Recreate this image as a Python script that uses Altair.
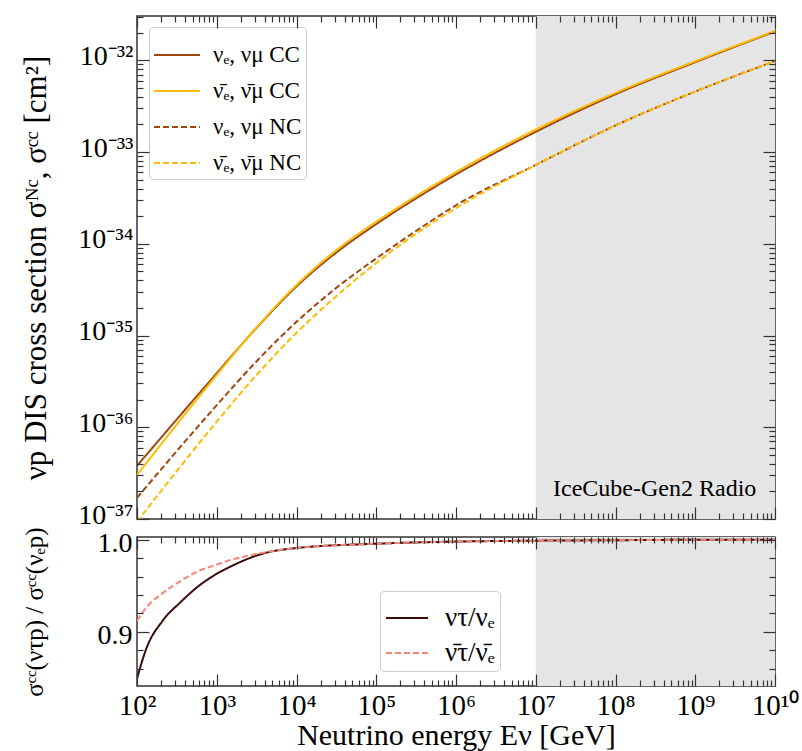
import altair as alt
import pandas as pd

# ------------------------------------------------------------------ data
energy_gev = [1e2, 1e3, 10 ** 3.5, 1e4, 10 ** 4.5, 1e5, 10 ** 5.5, 1e6, 1e7, 1e8, 1e9, 1e10]
cc_nu = [3.80e-37, 3.89e-36, 1.216e-35, 3.43e-35, 8.04e-35, 1.64e-34, 3.13e-34, 5.69e-34,
         1.66e-33, 4.27e-33, 9.55e-33, 2.065e-32]
cc_nubar = [3.02e-37, 3.72e-36, 1.23e-35, 3.55e-35, 8.51e-35, 1.74e-34, 3.31e-34, 6.03e-34,
            1.76e-33, 4.42e-33, 9.77e-33, 2.09e-32]
nc_nu = [1.70e-37, 1.74e-36, 5.25e-36, 1.41e-35, 3.31e-35, 6.92e-35, 1.38e-34, 2.63e-34,
         7.24e-34, 1.95e-33, 4.57e-33, 9.82e-33]
nc_nubar = [9.33e-38, 1.15e-36, 3.72e-36, 1.07e-35, 2.69e-35, 6.17e-35, 1.29e-34, 2.45e-34,
            7.24e-34, 1.95e-33, 4.57e-33, 9.82e-33]

series_top = ["νₑ, νμ CC", "ν̄ₑ, ν̄μ CC", "νₑ, νμ NC", "ν̄ₑ, ν̄μ NC"]
colors_top = ["#a0460f", "#fbbc05", "#a0460f", "#fbbc05"]

ratio_energy = [100, 130, 210, 350, 560, 1000, 1500, 3800, 1e4, 1e5, 1e6, 1e7, 1e8, 1e9, 1e10]
ratio_nutau = [0.849, 0.881, 0.912, 0.932, 0.948, 0.963, 0.971, 0.985, 0.991, 0.9957, 0.998, 0.999, 0.9995, 1.0, 1.0]
ratio_nutaubar = [0.912, 0.926, 0.942, 0.955, 0.965, 0.973, 0.978, 0.986, 0.991, 0.9957, 0.998, 0.999, 0.9995, 1.0, 1.0]
series_bot = ["ντ/νₑ", "ν̄τ/ν̄ₑ"]
colors_bot = ["#3d0b08", "#f7857a"]

band_energy = [1e7, 1e10]
band_label = ["IceCube-Gen2 Radio"]

x_domain = [1e2, 1e10]
y_domain_top = [1e-37, 3.04e-32]
y_domain_bot = [0.841, 1.003]

x_major = [10.0 ** k for k in range(2, 11)]
x_minor = [m * 10.0 ** k for k in range(2, 10) for m in range(2, 10)]
y_major_top = [10.0 ** k for k in range(-37, -31)]
y_minor_top = [m * 10.0 ** k for k in range(-37, -32) for m in range(2, 10)] + [2e-32, 3e-32]
y_major_bot = [0.9, 1.0]
y_minor_bot = [0.86, 0.88, 0.92, 0.94, 0.96, 0.98]

# ------------------------------------------------------------------ style
FONT = "Liberation Serif"
TC = "#333333"
W = 638
H_TOP = 503
H_BOT = 149
SUP = {"0": "⁰", "1": "¹", "2": "²", "3": "³", "4": "⁴", "5": "⁵",
       "6": "⁶", "7": "⁷", "8": "⁸", "9": "⁹", "-": "⁻"}


def sup(s):
    return "".join(SUP[c] for c in s)


def log_label_expr(exps):
    parts = [f"round(log(datum.value)/LN10) == {k} ? '10{sup(str(k))}'" for k in exps]
    return " : ".join(parts) + " : ''"


def tick_layers(xscale, yscale, H, xmaj, xmin, ymaj, ymin, gx, gy):
    ghost = pd.DataFrame({"gx": [gx], "gy": [gy]})
    specs = [
        ("x", "top", -H, xmaj, 12), ("x", "top", -H, xmin, 6),
        ("x", "bottom", -H, xmaj, 12), ("x", "bottom", -H, xmin, 6),
        ("y", "right", -W, ymaj, 12), ("y", "right", -W, ymin, 6),
        ("y", "left", -W, ymaj, 12), ("y", "left", -W, ymin, 6),
    ]
    layers = []
    for ch, orient, off, vals, size in specs:
        ax = alt.Axis(orient=orient, offset=off, values=vals, tickSize=size,
                      labels=False, domain=False, grid=False, title=None,
                      ticks=True, tickColor=TC, tickWidth=1.2, zindex=3)
        if ch == "x":
            enc = dict(x=alt.X("gx:Q", scale=xscale, axis=ax),
                       y=alt.Y("gy:Q", scale=yscale, axis=None))
        else:
            enc = dict(x=alt.X("gx:Q", scale=xscale, axis=None),
                       y=alt.Y("gy:Q", scale=yscale, axis=ax))
        layers.append(alt.Chart(ghost).mark_point(opacity=0).encode(**enc))
    return layers


# ------------------------------------------------------------------ top panel
top_df = pd.DataFrame({
    "E": energy_gev * 4,
    "sigma": cc_nu + cc_nubar + nc_nu + nc_nubar,
    "series": [s for s in series_top for _ in energy_gev],
})
xs_top = alt.Scale(type="log", domain=x_domain, nice=False)
ys_top = alt.Scale(type="log", domain=y_domain_top, nice=False)

legend_top = alt.Legend(
    title=None, orient="none", legendX=12, legendY=11, fillColor="white",
    strokeColor="#cccccc", cornerRadius=4, padding=4, labelFont=FONT,
    labelFontSize=23, labelColor="black", symbolType="stroke", symbolSize=2116,
    symbolStrokeWidth=2, rowPadding=-12, labelOffset=12,
)

band_top = alt.Chart(pd.DataFrame({"lo": [band_energy[0]], "hi": [band_energy[1]]})).mark_rect(
    color="#e5e5e5").encode(x=alt.X("lo:Q", scale=xs_top, axis=None), x2="hi:Q")

y_top_axis = alt.Axis(
    orient="left", values=y_major_top, labelExpr=log_label_expr(range(-37, -31)),
    ticks=False, tickSize=0, domain=False, grid=False, labelPadding=4, labelOffset=-4,
    labelFont=FONT, labelFontSize=28, labelColor="black", labelOverlap=False,
    title="νp DIS cross section σᴺᶜ, σᶜᶜ [cm²]", titleFont=FONT, titleFontSize=31,
    titleFontWeight="normal", titleColor="black", titlePadding=25, zindex=3,
)

lines_top = alt.Chart(top_df).mark_line(strokeWidth=2, clip=True, interpolate="monotone").encode(
    x=alt.X("E:Q", scale=xs_top, axis=None),
    y=alt.Y("sigma:Q", scale=ys_top, axis=y_top_axis),
    color=alt.Color("series:N", sort=series_top,
                    scale=alt.Scale(domain=series_top, range=colors_top), legend=legend_top),
    strokeDash=alt.StrokeDash("series:N", sort=series_top,
                              scale=alt.Scale(domain=series_top, range=[[1, 0], [1, 0], [6, 3], [6, 3]]),
                              legend=legend_top),
)

label_df = pd.DataFrame({"E": [3.1e8], "s": [2.15e-37], "t": band_label})
text_top = alt.Chart(label_df).mark_text(font=FONT, fontSize=24, color="black",
                                         align="center", baseline="middle").encode(
    x=alt.X("E:Q", scale=xs_top, axis=None),
    y=alt.Y("s:Q", scale=ys_top, axis=None),
    text="t:N",
)

top = alt.layer(
    band_top, lines_top, text_top,
    *tick_layers(xs_top, ys_top, H_TOP, x_major, x_minor, y_major_top, y_minor_top, 1e3, 1e-35),
).resolve_axis(x="independent", y="independent").properties(width=W, height=H_TOP)

# ------------------------------------------------------------------ bottom panel
bot_df = pd.DataFrame({
    "E": ratio_energy * 2,
    "ratio": ratio_nutau + ratio_nutaubar,
    "series": [s for s in series_bot for _ in ratio_energy],
})
xs_bot = alt.Scale(type="log", domain=x_domain, nice=False)
ys_bot = alt.Scale(domain=y_domain_bot, nice=False, zero=False)

legend_bot = alt.Legend(
    title=None, orient="none", legendX=243, legendY=54, fillColor="white",
    strokeColor="#cccccc", cornerRadius=4, padding=5, labelFont=FONT,
    labelFontSize=27, labelColor="black", symbolType="stroke", symbolSize=1764,
    symbolStrokeWidth=2, rowPadding=-6, labelOffset=16,
)

band_bot = alt.Chart(pd.DataFrame({"lo": [band_energy[0]], "hi": [band_energy[1]]})).mark_rect(
    color="#e5e5e5").encode(x=alt.X("lo:Q", scale=xs_bot, axis=None), x2="hi:Q")

x_bot_axis = alt.Axis(
    orient="bottom", values=x_major, labelExpr=log_label_expr(range(2, 11)),
    ticks=False, tickSize=0, domain=False, grid=False, labelPadding=5,
    labelFont=FONT, labelFontSize=29, labelColor="black", labelOverlap=False,
    labelFlush=False, title="Neutrino energy Eν [GeV]", titleFont=FONT,
    titleFontSize=30, titleFontWeight="normal", titleColor="black", titlePadding=0, zindex=3,
)
y_bot_axis = alt.Axis(
    orient="left", values=y_major_bot, format=".1f", ticks=False, tickSize=0,
    domain=False, grid=False, labelPadding=5, labelOffset=4, labelFont=FONT, labelFontSize=28,
    labelColor="black", labelOverlap=False,
    title="σᶜᶜ(ντp) / σᶜᶜ(νₑp)", titleFont=FONT, titleFontSize=25,
    titleFontWeight="normal", titleColor="black", titlePadding=50, zindex=3,
)

lines_bot = alt.Chart(bot_df).mark_line(strokeWidth=2, clip=True, interpolate="monotone").encode(
    x=alt.X("E:Q", scale=xs_bot, axis=x_bot_axis),
    y=alt.Y("ratio:Q", scale=ys_bot, axis=y_bot_axis),
    color=alt.Color("series:N", sort=series_bot,
                    scale=alt.Scale(domain=series_bot, range=colors_bot), legend=legend_bot),
    strokeDash=alt.StrokeDash("series:N", sort=series_bot,
                              scale=alt.Scale(domain=series_bot, range=[[1, 0], [6, 3]]),
                              legend=legend_bot),
)

bottom = alt.layer(
    band_bot, lines_bot,
    *tick_layers(xs_bot, ys_bot, H_BOT, x_major, x_minor, y_major_bot, y_minor_bot, 1e3, 0.95),
).resolve_axis(x="independent", y="independent").properties(width=W, height=H_BOT)

chart = alt.vconcat(top, bottom, spacing=18, bounds="flush").resolve_scale(
    color="independent", strokeDash="independent"
).resolve_legend(
    color="independent", strokeDash="independent"
).properties(
    padding={"left": 20, "top": 14, "right": 0, "bottom": 0}
).configure_view(stroke=TC, strokeWidth=1.5)

chart.save("out.html", embed_options={"renderer": "svg", "actions": False})
